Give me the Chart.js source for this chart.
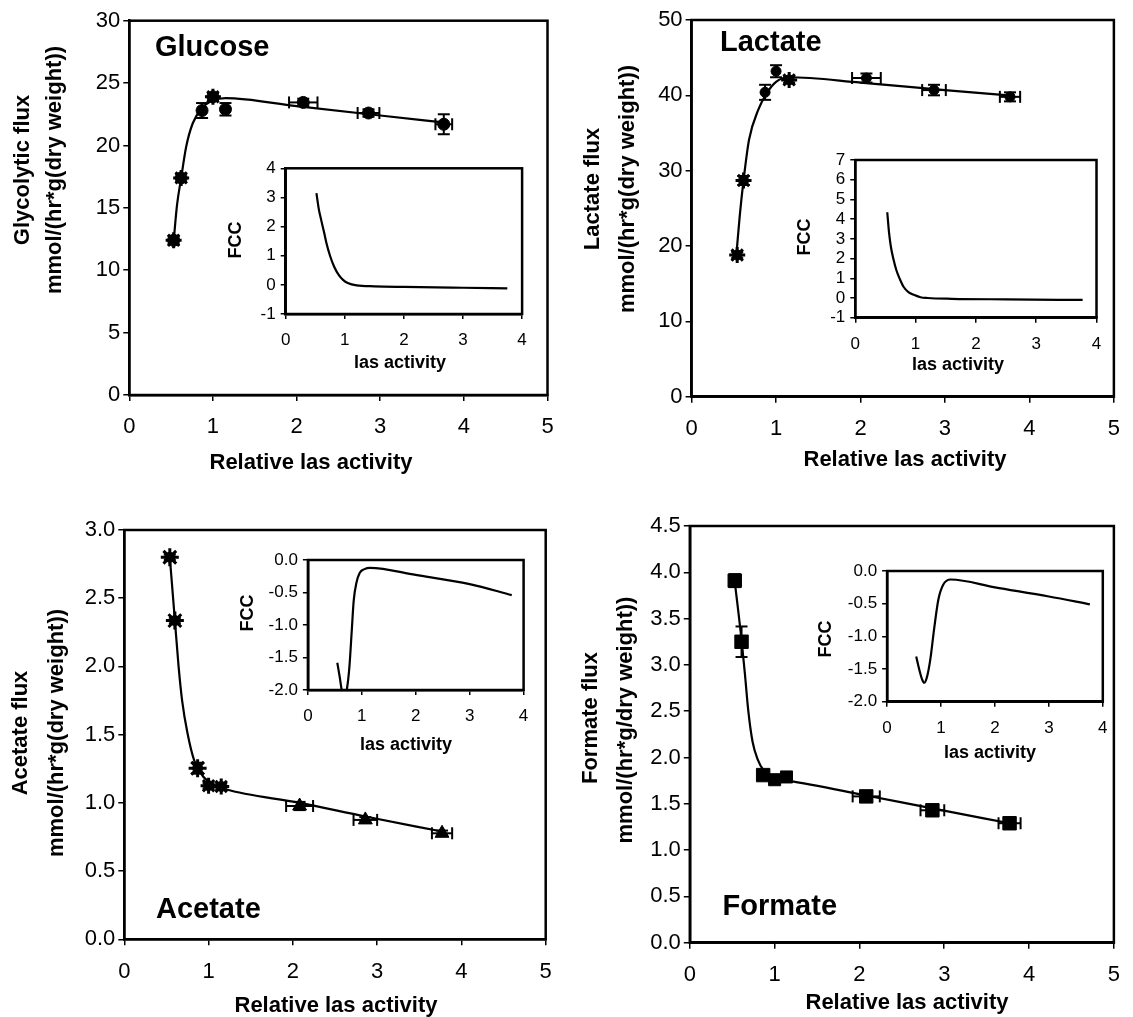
<!DOCTYPE html>
<html>
<head>
<meta charset="utf-8">
<script src="https://cdn.jsdelivr.net/npm/chart.js@4.4.1/dist/chart.umd.min.js"></script>
<style>
html, body { margin: 0; padding: 0; background: #fff; }
#wrap { position: relative; width: 1133px; height: 1017px; overflow: hidden; background: #fff; }
#wrap canvas { position: absolute; left: 0; top: 0; }
</style>
</head>
<body>
<div id="wrap">
  <canvas id="glucose" width="1133" height="1017"></canvas>
  <canvas id="glucoseFcc" width="1133" height="1017"></canvas>
  <canvas id="lactate" width="1133" height="1017"></canvas>
  <canvas id="lactateFcc" width="1133" height="1017"></canvas>
  <canvas id="acetate" width="1133" height="1017"></canvas>
  <canvas id="acetateFcc" width="1133" height="1017"></canvas>
  <canvas id="formate" width="1133" height="1017"></canvas>
  <canvas id="formateFcc" width="1133" height="1017"></canvas>
</div>
<script>
// ---- tick labels ----
const activityTicks = [0, 1, 2, 3, 4, 5];
const insetActivityTicks = [0, 1, 2, 3, 4];
const glucoseTicks = [0, 5, 10, 15, 20, 25, 30];
const lactateTicks = [0, 10, 20, 30, 40, 50];
const acetateTicks = [0, 0.5, 1.0, 1.5, 2.0, 2.5, 3.0];
const formateTicks = [0, 0.5, 1.0, 1.5, 2.0, 2.5, 3.0, 3.5, 4.0, 4.5];
const glucoseFccTicks = [-1, 0, 1, 2, 3, 4];
const lactateFccTicks = [-1, 0, 1, 2, 3, 4, 5, 6, 7];
const negFccTicks = [-2.0, -1.5, -1.0, -0.5, 0.0];

// ---- glucose ----
const glucoseX = [0.53, 0.62, 0.87, 1.0, 1.15, 2.08, 2.86, 3.76];
const glucoseY = [12.4, 17.4, 22.8, 23.9, 22.9, 23.45, 22.6, 21.7];
const glucoseXErr = [0, 0, 0, 0, 0, 0.17, 0.13, 0.1];
const glucoseYErr = [0.3, 0.3, 0.6, 0.3, 0.5, 0.3, 0.3, 0.8];
const glucoseFitX = [0.53, 0.57, 0.62, 0.68, 0.76, 0.87, 1.0, 1.15, 2.0, 3.0, 3.75];
const glucoseFitY = [12.3, 15.2, 17.4, 19.9, 21.8, 23.0, 23.6, 23.8, 23.15, 22.4, 21.85];
const glucoseFccX = [0.52, 0.56, 0.6, 0.65, 0.69, 0.75, 0.82, 0.9, 0.97, 1.05, 1.2, 1.5, 2.0, 3.0, 3.75];
const glucoseFccY = [3.15, 2.6, 2.23, 1.8, 1.43, 1.0, 0.62, 0.33, 0.17, 0.06, -0.02, -0.05, -0.07, -0.1, -0.12];

// ---- lactate ----
const lactateX = [0.54, 0.615, 0.87, 1.0, 1.155, 2.07, 2.87, 3.77];
const lactateY = [18.8, 28.7, 40.4, 43.2, 42.05, 42.3, 40.7, 39.8];
const lactateXErr = [0, 0, 0, 0, 0, 0.17, 0.14, 0.12];
const lactateYErr = [0.4, 0.6, 1.0, 0.8, 0.4, 0.6, 0.7, 0.6];
const lactateFitX = [0.53, 0.57, 0.615, 0.68, 0.79, 0.89, 1.0, 1.15, 2.0, 3.0, 3.75];
const lactateFitY = [18.8, 24.0, 28.7, 34.1, 38.1, 40.3, 41.8, 42.4, 41.7, 40.7, 40.0];
const lactateFccX = [0.53, 0.56, 0.59, 0.63, 0.68, 0.74, 0.8, 0.88, 0.98, 1.08, 1.2, 1.6, 2.5, 3.77];
const lactateFccY = [4.35, 3.3, 2.6, 2.0, 1.42, 0.95, 0.57, 0.3, 0.15, 0.04, 0.0, -0.04, -0.07, -0.1];

// ---- acetate ----
const acetateX = [0.54, 0.60, 0.87, 1.0, 1.15, 2.08, 2.86, 3.77];
const acetateY = [2.80, 2.336, 1.254, 1.126, 1.12, 0.977, 0.875, 0.777];
const acetateXErr = [0, 0, 0, 0, 0, 0.16, 0.14, 0.12];
const acetateYErr = [0.02, 0.02, 0.04, 0.02, 0.02, 0.03, 0.02, 0.02];
const acetateFitX = [0.54, 0.6, 0.644, 0.686, 0.75, 0.83, 0.94, 1.07, 1.2, 2.08, 2.86, 3.77];
const acetateFitY = [2.80, 2.34, 2.0, 1.75, 1.51, 1.31, 1.19, 1.13, 1.10, 1.0, 0.9, 0.79];
const acetateFccX = [0.545, 0.59, 0.627, 0.67, 0.72, 0.77, 0.81, 0.85, 0.9, 0.96, 1.05, 1.15, 2.0, 3.0, 3.78];
const acetateFccY = [-1.58, -1.8, -2.0, -2.1, -2.0, -1.64, -1.13, -0.62, -0.35, -0.2, -0.14, -0.12, -0.23, -0.37, -0.54];

// ---- formate ----
const formateX = [0.53, 0.61, 0.865, 1.0, 1.14, 2.08, 2.86, 3.77];
const formateY = [3.91, 3.25, 1.81, 1.76, 1.79, 1.58, 1.43, 1.29];
const formateXErr = [0, 0, 0.05, 0, 0, 0.16, 0.14, 0.13];
const formateYErr = [0.07, 0.165, 0.05, 0.03, 0.03, 0.03, 0.03, 0.03];
const formateFitX = [0.53, 0.61, 0.65, 0.69, 0.74, 0.8, 0.87, 0.95, 1.05, 1.15, 2.08, 2.86, 3.77];
const formateFitY = [3.9, 3.27, 2.9, 2.5, 2.17, 1.98, 1.86, 1.79, 1.76, 1.75, 1.59, 1.45, 1.29];
const formateFccX = [0.54, 0.6, 0.65, 0.69, 0.74, 0.8, 0.87, 0.95, 1.04, 1.18, 2.0, 3.0, 3.76];
const formateFccY = [-1.31, -1.52, -1.66, -1.71, -1.62, -1.36, -0.9, -0.44, -0.21, -0.13, -0.25, -0.39, -0.51];

const W = 1133, H = 1017;
const FONT = "'Liberation Sans', Arial, sans-serif";
Chart.defaults.font.family = FONT;
Chart.defaults.color = '#000';

const fmtInt = v => String(Math.round(v));
const fmtOne = v => (Math.abs(v) < 1e-9 ? 0 : v).toFixed(1);

function pts(xs, ys) {
    return xs.map((x, i) => ({ x: x, y: ys[i] }));
}

// the scale box has a fixed size so that the plot area lands where the layout padding says
function axisOpts(ticks, fmt, size, tl, pad, horizontal, boxSize) {
    return {
        type: 'linear',
        min: ticks[0],
        max: ticks[ticks.length - 1],
        afterBuildTicks: s => { s.ticks = ticks.map(v => ({ value: v })); },
        afterFit: s => { if (horizontal) s.height = boxSize; else s.width = boxSize; },
        border: { display: true, color: '#000', width: 2.5 },
        grid: { drawOnChartArea: false, drawTicks: true, tickLength: tl, color: '#000', lineWidth: 1.5 },
        ticks: { color: '#000', padding: pad, autoSkip: false, maxRotation: 0, font: { size: size }, callback: v => fmt(v) }
    };
}

// box around the plot area
function framePlugin(fillWhite) {
    return {
        id: 'frame',
        beforeDraw(chart) {
            if (!fillWhite) return;
            const a = chart.chartArea, ctx = chart.ctx;
            ctx.save();
            ctx.fillStyle = '#fff';
            ctx.fillRect(a.left, a.top, a.right - a.left, a.bottom - a.top);
            ctx.restore();
        },
        afterDraw(chart) {
            const a = chart.chartArea, ctx = chart.ctx;
            ctx.save();
            ctx.strokeStyle = '#000';
            ctx.lineWidth = 2.5;
            ctx.strokeRect(a.left, a.top, a.right - a.left, a.bottom - a.top);
            ctx.restore();
        }
    };
}

function textPlugin(items) {
    return {
        id: 'texts',
        afterDraw(chart) {
            const ctx = chart.ctx;
            items.forEach(t => {
                ctx.save();
                ctx.font = t.font;
                ctx.fillStyle = '#000';
                ctx.textAlign = t.align || 'center';
                ctx.textBaseline = 'middle';
                ctx.translate(t.x, t.y);
                if (t.rot) ctx.rotate(-Math.PI / 2);
                ctx.fillText(t.text, 0, 0);
                ctx.restore();
            });
        }
    };
}

function errorBarPlugin(xs, ys, xe, ye) {
    return {
        id: 'errorBars',
        afterDatasetsDraw(chart) {
            const ctx = chart.ctx, sx = chart.scales.x, sy = chart.scales.y;
            const seg = (a, b, c, d) => { ctx.beginPath(); ctx.moveTo(a, b); ctx.lineTo(c, d); ctx.stroke(); };
            ctx.save();
            ctx.strokeStyle = '#000';
            ctx.lineWidth = 2;
            xs.forEach((xv, i) => {
                const px = sx.getPixelForValue(xv), py = sy.getPixelForValue(ys[i]);
                if (ye[i]) {
                    const t = sy.getPixelForValue(ys[i] + ye[i]), b = sy.getPixelForValue(ys[i] - ye[i]);
                    seg(px, t, px, b);
                    seg(px - 6, t, px + 6, t);
                    seg(px - 6, b, px + 6, b);
                }
                if (xe[i]) {
                    const l = sx.getPixelForValue(xv - xe[i]), r = sx.getPixelForValue(xv + xe[i]);
                    seg(l, py, r, py);
                    seg(l, py - 6, l, py + 6);
                    seg(r, py - 6, r, py + 6);
                }
            });
            ctx.restore();
        }
    };
}

function makeChart(id, area, xTicks, yTicks, yFmt, inset, datasets, plugins) {
    const size = inset ? 17 : 22;
    const yBox = inset ? 55 : 70, xBox = inset ? 40 : 50;
    new Chart(document.getElementById(id), {
        type: 'scatter',
        data: { datasets: datasets },
        options: {
            responsive: false,
            animation: false,
            devicePixelRatio: 1,
            events: [],
            layout: { padding: { left: area.l - yBox, top: area.t, right: W - area.r, bottom: H - area.b - xBox } },
            plugins: { legend: { display: false }, tooltip: { enabled: false } },
            scales: {
                x: axisOpts(xTicks, fmtInt, size, inset ? 5 : 6, inset ? 11 : 13, true, xBox),
                y: axisOpts(yTicks, yFmt, size, inset ? 5 : 6, inset ? 5 : 3, false, yBox)
            }
        },
        plugins: plugins
    });
}

function fitSet(xs, ys) {
    return { data: pts(xs, ys), showLine: true, borderColor: '#000', borderWidth: 2.2,
             pointRadius: 0, cubicInterpolationMode: 'monotone', clip: 1 };
}
function markerSet(xs, ys, styles, radii) {
    return { data: pts(xs, ys), pointStyle: styles, pointRadius: radii,
             backgroundColor: '#000', borderColor: '#000', borderWidth: 1 };
}
function starSet(xs, ys, radii) {
    return { data: pts(xs, ys), pointStyle: 'star', pointRadius: radii,
             backgroundColor: '#000', borderColor: '#000', borderWidth: 3 };
}

const titleFont = 'bold 22px ' + FONT;
const nameFont = 'bold 29px ' + FONT;
const insetFont = 'bold 18px ' + FONT;

// GLUCOSE
makeChart('glucose', { l: 129.3, r: 547.5, t: 20.7, b: 395 }, activityTicks, glucoseTicks, fmtInt, false, [
    fitSet(glucoseFitX, glucoseFitY),
    markerSet(glucoseX, glucoseY, 'circle', [6, 6, 6, 6, 6, 6, 6, 6]),
    starSet(glucoseX, glucoseY, [8, 8, 0, 8, 0, 0, 0, 0])
], [framePlugin(false), errorBarPlugin(glucoseX, glucoseY, glucoseXErr, glucoseYErr), textPlugin([
    { text: 'Glycolytic flux', x: 23, y: 170, rot: true, font: titleFont },
    { text: 'mmol/(hr*g(dry weight))', x: 55, y: 170, rot: true, font: titleFont },
    { text: 'Relative las activity', x: 311, y: 463, font: titleFont },
    { text: 'Glucose', x: 155, y: 48, align: 'left', font: nameFont }
])]);
makeChart('glucoseFcc', { l: 285.7, r: 522.1, t: 168.3, b: 314 }, insetActivityTicks, glucoseFccTicks, fmtInt, true, [
    fitSet(glucoseFccX, glucoseFccY)
], [framePlugin(true), textPlugin([
    { text: 'FCC', x: 236, y: 240, rot: true, font: insetFont },
    { text: 'las activity', x: 400, y: 363, font: insetFont }
])]);

// LACTATE
makeChart('lactate', { l: 691.6, r: 1121.8, t: 20, b: 396.7 }, activityTicks, lactateTicks, fmtInt, false, [
    fitSet(lactateFitX, lactateFitY),
    markerSet(lactateX, lactateY, 'circle', [5, 5, 5, 5, 5, 5, 5, 5]),
    starSet(lactateX, lactateY, [8, 8, 0, 0, 8, 0, 0, 0])
], [framePlugin(false), errorBarPlugin(lactateX, lactateY, lactateXErr, lactateYErr), textPlugin([
    { text: 'Lactate flux', x: 593, y: 189, rot: true, font: titleFont },
    { text: 'mmol/(hr*g(dry weight))', x: 627.6, y: 189, rot: true, font: titleFont },
    { text: 'Relative las activity', x: 905, y: 460, font: titleFont },
    { text: 'Lactate', x: 720, y: 42.5, align: 'left', font: nameFont }
])]);
makeChart('lactateFcc', { l: 855.3, r: 1096.5, t: 160, b: 317.7 }, insetActivityTicks, lactateFccTicks, fmtInt, true, [
    fitSet(lactateFccX, lactateFccY)
], [framePlugin(true), textPlugin([
    { text: 'FCC', x: 805, y: 237, rot: true, font: insetFont },
    { text: 'las activity', x: 958, y: 365, font: insetFont }
])]);

// ACETATE
makeChart('acetate', { l: 124.3, r: 545.7, t: 530, b: 939.3 }, activityTicks, acetateTicks, fmtOne, false, [
    fitSet(acetateFitX, acetateFitY),
    markerSet(acetateX, acetateY, ['circle', 'circle', 'circle', 'circle', 'circle', 'triangle', 'triangle', 'triangle'], [5, 5, 5, 5, 5, 8, 8, 8]),
    starSet(acetateX, acetateY, [9, 9, 9, 8, 8, 0, 0, 0])
], [framePlugin(false), errorBarPlugin(acetateX, acetateY, acetateXErr, acetateYErr), textPlugin([
    { text: 'Acetate flux', x: 21.4, y: 733, rot: true, font: titleFont },
    { text: 'mmol/(hr*g(dry weight))', x: 57, y: 733, rot: true, font: titleFont },
    { text: 'Relative las activity', x: 336, y: 1006, font: titleFont },
    { text: 'Acetate', x: 156, y: 910, align: 'left', font: nameFont }
])]);
makeChart('acetateFcc', { l: 307.9, r: 523.6, t: 560, b: 690 }, insetActivityTicks, negFccTicks, fmtOne, true, [
    fitSet(acetateFccX, acetateFccY)
], [framePlugin(true), textPlugin([
    { text: 'FCC', x: 248, y: 613, rot: true, font: insetFont },
    { text: 'las activity', x: 406, y: 745, font: insetFont }
])]);

// FORMATE
makeChart('formate', { l: 689.8, r: 1122.9, t: 526, b: 942.7 }, activityTicks, formateTicks, fmtOne, false, [
    fitSet(formateFitX, formateFitY),
    markerSet(formateX, formateY, 'rect', [9.5, 9.5, 9.5, 8.5, 8.5, 9.5, 9.5, 9.5])
], [framePlugin(false), errorBarPlugin(formateX, formateY, formateXErr, formateYErr), textPlugin([
    { text: 'Formate flux', x: 591, y: 718, rot: true, font: titleFont },
    { text: 'mmol/(hr*g/dry weight))', x: 626, y: 720, rot: true, font: titleFont },
    { text: 'Relative las activity', x: 907, y: 1003, font: titleFont },
    { text: 'Formate', x: 722.6, y: 907, align: 'left', font: nameFont }
])]);
makeChart('formateFcc', { l: 887.1, r: 1102.8, t: 571, b: 701.7 }, insetActivityTicks, negFccTicks, fmtOne, true, [
    fitSet(formateFccX, formateFccY)
], [framePlugin(true), textPlugin([
    { text: 'FCC', x: 826.5, y: 639, rot: true, font: insetFont },
    { text: 'las activity', x: 990, y: 753, font: insetFont }
])]);
</script>
</body>
</html>
